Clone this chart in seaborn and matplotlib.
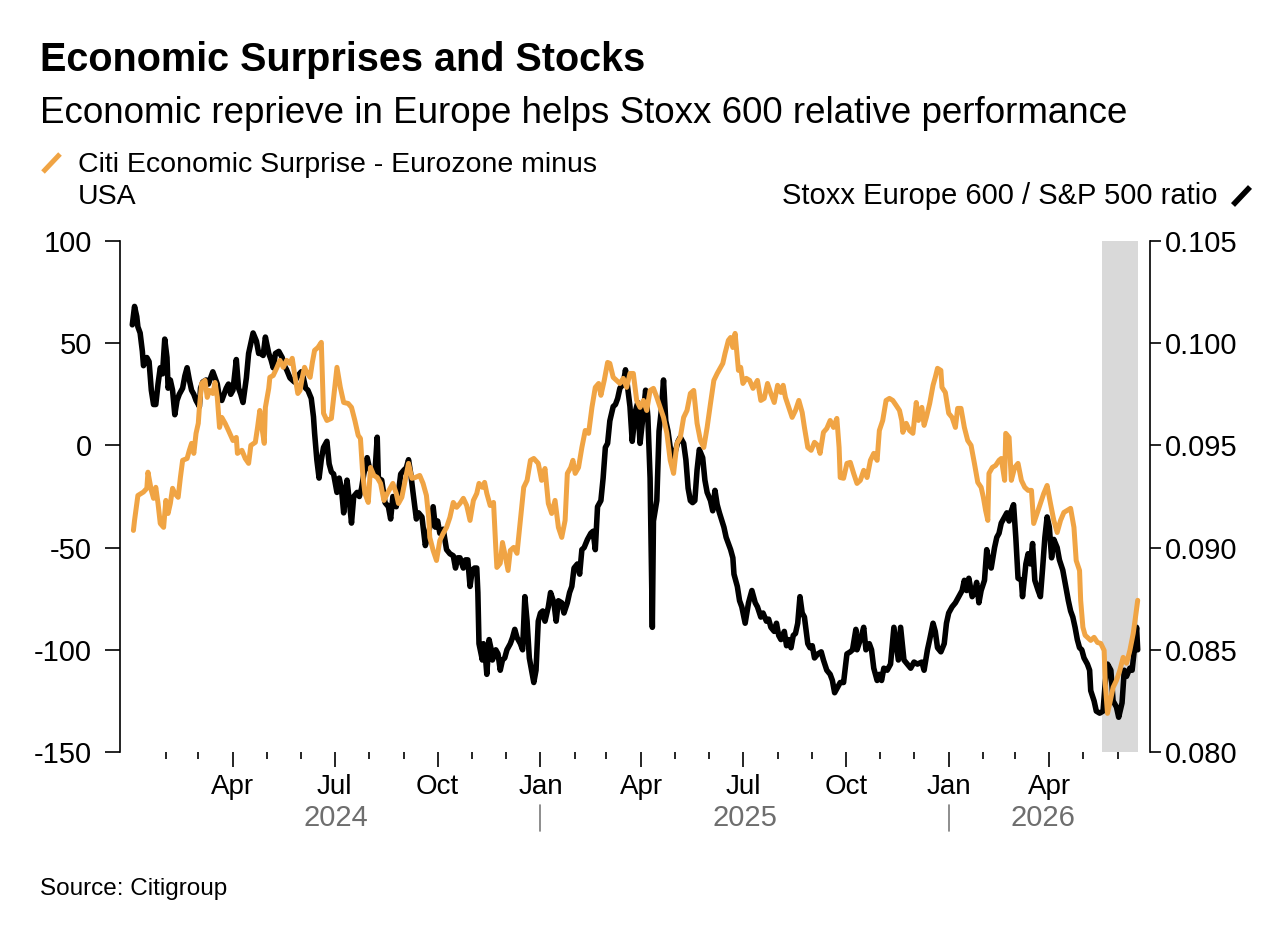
import numpy as np
import pandas as pd
import matplotlib
matplotlib.use("Agg")
import matplotlib.pyplot as plt
import matplotlib.dates as mdates
from matplotlib.lines import Line2D
from matplotlib.transforms import blended_transform_factory
import seaborn as sns

sns.set_theme(style="white")
plt.rcParams['font.family'] = ['Liberation Sans', 'DejaVu Sans']

# ---------------- data ----------------
START = pd.Timestamp("2024-01-01")   # day numbers below count from this date

# Citi Economic Surprise - Eurozone minus USA (left axis)
surprise_days = [
    2, 3, 6, 11, 14, 15, 18, 20, 22, 24,
    26, 29, 31, 33, 35, 37, 39, 42, 44, 46,
    50, 52, 54, 56, 58, 60, 61, 63, 66, 68,
    70, 73, 75, 77, 79, 81, 84, 87, 91, 94,
    95, 99, 102, 105, 107, 111, 113, 115, 117, 119,
    120, 123, 124, 127, 130, 133, 136, 139, 142, 144,
    146, 149, 151, 153, 155, 157, 160, 162, 164, 167,
    170, 172, 175, 179, 182, 184, 187, 190, 194, 197,
    200, 203, 205, 207, 209, 212, 214, 217, 220, 223,
    226, 229, 232, 234, 237, 239, 242, 245, 248, 251,
    254, 258, 261, 264, 266, 267, 270, 273, 276, 279,
    282, 285, 288, 291, 294, 297, 300, 303, 306, 309,
    311, 314, 316, 318, 321, 324, 326, 327, 330, 332,
    334, 337, 339, 342, 345, 348, 351, 354, 357, 360,
    364, 367, 370, 373, 376, 379, 382, 385, 388, 390,
    393, 395, 397, 400, 403, 406, 409, 412, 415, 418,
    420, 423, 426, 428, 431, 434, 437, 440, 443, 446,
    449, 452, 455, 458, 461, 464, 467, 470, 473, 476,
    479, 482, 485, 488, 491, 494, 497, 500, 503, 506,
    509, 512, 515, 518, 521, 524, 527, 529, 531, 534,
    536, 538, 540, 543, 545, 547, 550, 553, 556, 560,
    563, 566, 569, 572, 575, 578, 581, 583, 585, 588,
    591, 594, 597, 600, 602, 605, 608, 611, 614, 616,
    619, 622, 625, 628, 631, 633, 634, 637, 640, 643,
    646, 649, 652, 655, 658, 661, 664, 667, 669, 672,
    675, 678, 681, 684, 687, 689, 690, 693, 696, 699,
    702, 704, 707, 709, 711, 714, 717, 719, 721, 724,
    725, 728, 731, 734, 737, 739, 742, 745, 748, 751,
    754, 757, 760, 762, 764, 766, 767, 770, 773, 776,
    778, 781, 782, 785, 787, 790, 793, 796, 799, 802,
    805, 807, 810, 813, 816, 819, 822, 825, 828, 831,
    834, 837, 840, 843, 845, 848, 849, 851, 853, 855,
    858, 861, 864, 867, 870, 871, 873, 875, 878, 881,
    884, 887, 890, 893, 896, 898, 900,
]
surprise_values = [
    -41.6, -36.7, -24.5, -22.8, -21.0, -13.1, -22.0, -25.9, -20.5, -28.4,
    -38.2, -40.1, -26.9, -33.3, -28.4, -21.0, -23.5, -25.4, -15.7, -7.3,
    -6.4, -2.4, 1.0, -3.9, 5.9, 10.8, 18.6, 30.3, 31.8, 23.5,
    26.9, 25.4, 30.8, 23.5, 8.8, 13.7, 10.8, 7.3, 2.4, 3.9,
    -3.9, -2.4, -6.4, -8.8, 0.0, 1.5, 8.8, 17.1, 8.3, 1.0,
    18.6, 27.9, 33.3, 34.2, 37.7, 41.6, 38.2, 41.6, 40.1, 42.6,
    35.2, 25.4, 26.9, 33.3, 38.2, 35.7, 33.3, 40.6, 46.5, 47.9,
    50.4, 15.7, 12.2, 13.2, 28.4, 38.2, 28.4, 21.0, 20.5, 18.6,
    12.2, 4.9, 3.4, -13.7, -23.5, -27.9, -10.8, -14.7, -15.7, -18.6,
    -26.9, -23.5, -20.5, -18.6, -23.5, -28.4, -25.4, -17.1, -8.8, -16.1,
    -15.7, -14.7, -18.6, -24.5, -35.2, -45.0, -51.4, -56.3, -46.5, -43.0,
    -40.1, -35.2, -27.9, -30.3, -28.4, -25.9, -29.4, -36.7, -26.9, -23.5,
    -18.6, -20.5, -18.1, -23.5, -29.4, -27.9, -49.9, -59.7, -57.7, -47.5,
    -52.8, -61.2, -51.4, -49.9, -52.8, -36.7, -20.5, -17.1, -7.3, -6.4,
    -8.8, -17.1, -11.3, -28.4, -33.3, -26.9, -40.1, -45.0, -36.7, -13.7,
    -10.8, -7.3, -13.7, -10.8, -1.0, 7.3, 5.9, 18.6, 28.4, 30.3,
    24.5, 31.8, 40.6, 40.1, 33.3, 31.8, 30.3, 32.8, 28.4, 35.2,
    35.2, 22.0, 18.6, 22.0, 17.1, 26.9, 27.9, 23.5, 18.6, 13.7,
    5.9, -7.3, -13.7, 1.0, 3.9, 13.7, 17.1, 25.4, 26.9, 10.8,
    2.4, -1.0, 8.8, 20.5, 31.8, 35.2, 38.2, 40.1, 45.0, 51.4,
    52.8, 47.9, 54.8, 36.7, 38.2, 30.3, 32.8, 31.8, 27.9, 31.8,
    22.0, 23.0, 30.3, 25.4, 21.0, 29.4, 25.9, 29.4, 23.5, 18.6,
    13.7, 17.1, 22.0, 16.1, 8.8, -1.0, -2.4, 1.5, 0.0, -3.9,
    6.4, 8.3, 12.2, 8.8, 13.2, -1.0, -15.7, -16.1, -8.8, -8.3,
    -13.7, -18.6, -17.1, -12.2, -15.7, -7.3, -3.9, -7.3, 7.3, 12.2,
    22.0, 23.0, 22.0, 19.6, 17.1, 12.2, 6.4, 10.8, 7.3, 5.9,
    21.0, 12.2, 18.6, 9.8, 13.7, 20.5, 29.4, 33.3, 37.7, 36.7,
    28.4, 25.9, 15.7, 13.7, 8.8, 18.1, 18.1, 8.8, 2.4, 0.0,
    -8.8, -18.1, -20.5, -25.4, -31.8, -36.7, -13.7, -10.8, -9.8, -7.3,
    -6.4, -17.1, 5.9, 3.9, -17.1, -10.8, -8.8, -17.1, -20.5, -22.0,
    -22.0, -38.2, -33.3, -28.4, -23.5, -19.6, -28.4, -36.7, -42.6, -36.7,
    -32.8, -31.8, -30.8, -40.1, -56.3, -61.2, -75.8, -89.0, -92.9, -93.9,
    -95.4, -93.9, -96.4, -96.9, -100.3, -116.4, -131.1, -126.2, -118.4, -115.0,
    -110.1, -103.7, -106.6, -100.3, -92.0, -84.1, -75.8,
]

# Stoxx Europe 600 / S&P 500 ratio (right axis)
ratio_days = [
    1, 3, 5, 6, 8, 10, 11, 14, 16, 18,
    20, 22, 24, 26, 28, 30, 32, 33, 35, 37,
    39, 41, 43, 46, 48, 50, 52, 54, 56, 58,
    61, 62, 64, 67, 69, 71, 73, 75, 77, 79,
    81, 83, 85, 87, 89, 91, 94, 96, 98, 100,
    103, 105, 107, 109, 112, 114, 116, 118, 120, 123,
    125, 127, 129, 132, 135, 137, 139, 142, 144, 146,
    149, 152, 154, 156, 158, 161, 163, 164, 166, 168,
    170, 172, 175, 177, 179, 181, 184, 186, 188, 190,
    193, 195, 197, 199, 202, 204, 206, 208, 211, 213,
    215, 218, 220, 221, 224, 227, 230, 232, 234, 237,
    239, 241, 244, 246, 248, 250, 252, 255, 257, 260,
    263, 265, 267, 270, 272, 274, 276, 279, 282, 285,
    288, 290, 292, 294, 297, 299, 301, 303, 305, 307,
    309, 310, 311, 314, 315, 317, 318, 320, 322, 323,
    326, 328, 330, 332, 334, 336, 339, 341, 343, 345,
    348, 350, 352, 354, 356, 358, 360, 362, 364, 366,
    368, 370, 373, 375, 378, 380, 382, 385, 387, 390,
    392, 394, 396, 399, 401, 403, 405, 408, 411, 413,
    415, 417, 420, 422, 424, 426, 428, 431, 433, 435,
    437, 440, 442, 444, 446, 448, 451, 453, 455, 458,
    460, 462, 464, 466, 467, 470, 472, 474, 476, 478,
    480, 482, 484, 486, 489, 491, 494, 496, 498, 500,
    502, 504, 506, 508, 511, 513, 515, 518, 520, 522,
    524, 526, 530, 532, 536, 538, 539, 542, 544, 546,
    549, 552, 555, 558, 560, 563, 565, 568, 570, 572,
    575, 577, 579, 581, 584, 586, 588, 590, 592, 594,
    596, 598, 600, 602, 605, 607, 609, 611, 614, 617,
    619, 622, 625, 627, 629, 632, 634, 637, 640, 643,
    645, 648, 649, 652, 655, 657, 660, 662, 664, 667,
    669, 671, 673, 676, 679, 682, 684, 686, 688, 691,
    694, 697, 700, 703, 707, 709, 712, 714, 717, 719,
    721, 724, 727, 729, 731, 734, 737, 740, 743, 745,
    747, 749, 752, 754, 756, 758, 760, 763, 765, 767,
    769, 772, 774, 776, 778, 781, 783, 785, 787, 789,
    791, 793, 796, 797, 800, 802, 804, 806, 808, 811,
    813, 815, 817, 819, 821, 823, 825, 828, 830, 833,
    835, 838, 840, 842, 844, 846, 848, 850, 852, 855,
    857, 858, 861, 863, 866, 869, 871, 873, 876, 878,
    881, 883, 886, 888, 890, 893, 895, 897, 899, 900,
]
ratio_values = [
    0.1009, 0.1018, 0.1013, 0.1008, 0.1005, 0.0996, 0.0989, 0.0993, 0.0991, 0.0977,
    0.0970, 0.0970, 0.0980, 0.0988, 0.0985, 0.1002, 0.0993, 0.0978, 0.0982, 0.0977,
    0.0965, 0.0972, 0.0975, 0.0978, 0.0984, 0.0988, 0.0982, 0.0977, 0.0975, 0.0972,
    0.0969, 0.0978, 0.0981, 0.0982, 0.0980, 0.0983, 0.0986, 0.0983, 0.0980, 0.0973,
    0.0972, 0.0975, 0.0978, 0.0980, 0.0975, 0.0977, 0.0992, 0.0978, 0.0975, 0.0971,
    0.0983, 0.0995, 0.1000, 0.1005, 0.1001, 0.0995, 0.0995, 0.0994, 0.1003, 0.0995,
    0.0992, 0.0988, 0.0995, 0.0996, 0.0993, 0.0989, 0.0987, 0.0983, 0.0982, 0.0981,
    0.0984, 0.0986, 0.0983, 0.0978, 0.0977, 0.0973, 0.0964, 0.0956, 0.0943, 0.0934,
    0.0943, 0.0949, 0.0952, 0.0941, 0.0937, 0.0936, 0.0927, 0.0934, 0.0929, 0.0917,
    0.0933, 0.0923, 0.0912, 0.0925, 0.0927, 0.0925, 0.0929, 0.0936, 0.0944, 0.0939,
    0.0936, 0.0937, 0.0954, 0.0934, 0.0933, 0.0922, 0.0920, 0.0914, 0.0925, 0.0920,
    0.0927, 0.0936, 0.0938, 0.0939, 0.0943, 0.0936, 0.0927, 0.0914, 0.0917, 0.0915,
    0.0901, 0.0905, 0.0910, 0.0920, 0.0910, 0.0913, 0.0907, 0.0909, 0.0899, 0.0897,
    0.0896, 0.0890, 0.0895, 0.0895, 0.0890, 0.0894, 0.0894, 0.0881, 0.0889, 0.0890,
    0.0890, 0.0878, 0.0853, 0.0845, 0.0853, 0.0845, 0.0838, 0.0855, 0.0850, 0.0845,
    0.0850, 0.0848, 0.0840, 0.0845, 0.0846, 0.0850, 0.0853, 0.0856, 0.0860, 0.0856,
    0.0853, 0.0850, 0.0876, 0.0864, 0.0846, 0.0840, 0.0834, 0.0840, 0.0864, 0.0868,
    0.0869, 0.0864, 0.0871, 0.0878, 0.0873, 0.0864, 0.0874, 0.0873, 0.0868, 0.0873,
    0.0878, 0.0881, 0.0890, 0.0892, 0.0887, 0.0899, 0.0900, 0.0904, 0.0907, 0.0908,
    0.0899, 0.0920, 0.0923, 0.0934, 0.0949, 0.0951, 0.0962, 0.0969, 0.0970, 0.0973,
    0.0978, 0.0980, 0.0987, 0.0978, 0.0969, 0.0952, 0.0967, 0.0971, 0.0951, 0.0966,
    0.0977, 0.0964, 0.0934, 0.0861, 0.0913, 0.0923, 0.0957, 0.0967, 0.0982, 0.0962,
    0.0957, 0.0949, 0.0943, 0.0946, 0.0952, 0.0954, 0.0951, 0.0943, 0.0929, 0.0923,
    0.0922, 0.0923, 0.0938, 0.0948, 0.0944, 0.0933, 0.0927, 0.0923, 0.0918, 0.0928,
    0.0921, 0.0917, 0.0910, 0.0905, 0.0899, 0.0895, 0.0887, 0.0881, 0.0874, 0.0871,
    0.0863, 0.0873, 0.0879, 0.0873, 0.0871, 0.0866, 0.0868, 0.0864, 0.0865, 0.0861,
    0.0859, 0.0863, 0.0857, 0.0855, 0.0859, 0.0852, 0.0855, 0.0851, 0.0857, 0.0858,
    0.0863, 0.0876, 0.0868, 0.0866, 0.0853, 0.0851, 0.0852, 0.0846, 0.0848, 0.0849,
    0.0845, 0.0840, 0.0838, 0.0835, 0.0829, 0.0832, 0.0834, 0.0834, 0.0848, 0.0849,
    0.0850, 0.0860, 0.0850, 0.0855, 0.0861, 0.0850, 0.0853, 0.0850, 0.0841, 0.0835,
    0.0838, 0.0835, 0.0841, 0.0840, 0.0843, 0.0861, 0.0853, 0.0845, 0.0861, 0.0845,
    0.0843, 0.0841, 0.0844, 0.0843, 0.0844, 0.0840, 0.0850, 0.0855, 0.0863, 0.0859,
    0.0851, 0.0849, 0.0853, 0.0863, 0.0868, 0.0871, 0.0873, 0.0876, 0.0879, 0.0884,
    0.0879, 0.0885, 0.0876, 0.0878, 0.0883, 0.0873, 0.0879, 0.0884, 0.0899, 0.0892,
    0.0890, 0.0900, 0.0905, 0.0907, 0.0912, 0.0915, 0.0917, 0.0913, 0.0918, 0.0921,
    0.0905, 0.0885, 0.0884, 0.0876, 0.0892, 0.0897, 0.0892, 0.0902, 0.0884, 0.0879,
    0.0876, 0.0890, 0.0905, 0.0915, 0.0910, 0.0895, 0.0904, 0.0900, 0.0894, 0.0889,
    0.0883, 0.0874, 0.0869, 0.0866, 0.0861, 0.0855, 0.0851, 0.0850, 0.0846, 0.0843,
    0.0840, 0.0830, 0.0825, 0.0820, 0.0819, 0.0820, 0.0834, 0.0843, 0.0840, 0.0825,
    0.0822, 0.0817, 0.0824, 0.0840, 0.0837, 0.0841, 0.0840, 0.0850, 0.0861, 0.0850,
]

surprise_ticks = [-150, -100, -50, 0, 50, 100]
ratio_ticks = [0.080, 0.085, 0.090, 0.095, 0.100, 0.105]
year_labels = ["2024", "2025", "2026"]
shade_start, shade_end = "2026-05-18", "2026-06-19"
x_start, x_end = "2023-12-22", "2026-06-30"

if len(surprise_days) != len(surprise_values) or len(ratio_days) != len(ratio_values):
    raise SystemExit(f"length mismatch {len(surprise_days)} {len(surprise_values)} "
                     f"{len(ratio_days)} {len(ratio_values)}")

surprise_df = pd.DataFrame({"date": START + pd.to_timedelta(surprise_days, unit="D"),
                            "value": surprise_values})
ratio_df = pd.DataFrame({"date": START + pd.to_timedelta(ratio_days, unit="D"),
                         "value": ratio_values})

ORANGE = "#F0A444"
W, H = 1280, 935

def fx(px):
    return px / W

def fy(py):
    return 1 - py / H

fig = plt.figure(figsize=(12.8, 9.35), dpi=100)
ax = fig.add_axes([fx(120), fy(752), fx(1150) - fx(120), fy(241) - fy(752)])
ax2 = ax.twinx()

ax.axvspan(pd.Timestamp(shade_start), pd.Timestamp(shade_end), color="#D9D9D9", lw=0, zorder=0)

sns.lineplot(data=ratio_df, x="date", y="value", ax=ax, color="black", lw=4.0,
             estimator=None, zorder=3)
sns.lineplot(data=surprise_df, x="date", y="value", ax=ax2, color=ORANGE, lw=3.6,
             estimator=None, zorder=3)
for l in ax.lines + ax2.lines:
    l.set_solid_joinstyle("round")
    l.set_solid_capstyle("round")

ax.set_xlim(pd.Timestamp(x_start), pd.Timestamp(x_end))
ax.set_ylim(0.080, 0.105)
ax2.set_ylim(-150, 100)
for a in (ax, ax2):
    a.set_xlabel("")
    a.set_ylabel("")
    for s in a.spines.values():
        s.set_visible(False)

TICK_FS = 21

# right axis (ratio)
ax.yaxis.tick_right()
ax.set_yticks(ratio_ticks)
ax.set_yticklabels([f"{t:.3f}" for t in ratio_ticks])
ax.spines["right"].set_visible(True)
ax.spines["right"].set_color("black")
ax.spines["right"].set_linewidth(1.2)
ax.tick_params(axis="y", which="major", left=False, right=True, length=8, width=1.2,
               color="black", labelsize=TICK_FS, pad=3, labelcolor="black")

# left axis (surprise)
ax2.yaxis.tick_left()
ax2.set_yticks(surprise_ticks)
ax2.set_yticklabels([str(t) for t in surprise_ticks])
ax2.spines["left"].set_visible(True)
ax2.spines["left"].set_color("black")
ax2.spines["left"].set_linewidth(1.2)
ax2.tick_params(axis="y", which="major", left=True, right=False, length=11, width=1.2,
                color="black", labelsize=TICK_FS, pad=9, labelcolor="black")

# x axis
majors = pd.date_range("2024-04-01", "2026-04-01", freq="QS")
minors = [d for d in pd.date_range("2024-02-01", "2026-06-01", freq="MS") if d not in set(majors)]
ax.set_xticks(majors)
ax.set_xticks(minors, minor=True)
ax.xaxis.set_major_formatter(mdates.DateFormatter("%b"))
ax.tick_params(axis="x", which="major", bottom=True, length=11, width=1.2, color="black",
               labelsize=20, pad=5, labelcolor="black")
ax.tick_params(axis="x", which="minor", bottom=True, length=5, width=1.2, color="black")

# year labels with separators
trans = blended_transform_factory(ax.transData, fig.transFigure)
last = surprise_df["date"].max()
for yl in year_labels:
    y0 = pd.Timestamp(f"{yl}-01-01")
    y1 = min(pd.Timestamp(f"{int(yl) + 1}-01-01"), last)
    y0c = max(y0, pd.Timestamp("2024-01-01"))
    mid = y0c + (y1 - y0c) / 2
    ax.text(mid, fy(826), yl, transform=trans, ha="center", va="baseline",
            fontsize=21, color="#6E6E6E")
    if yl != "2024":
        ax.add_artist(Line2D([mdates.date2num(y0)] * 2, [fy(805), fy(831)], transform=trans,
                             color="#7A7A7A", lw=1.2, clip_on=False))

# titles
fig.text(fx(40), fy(71), "Economic Surprises and Stocks", fontsize=28.5, fontweight="bold",
         va="baseline", ha="left", color="black")
fig.text(fx(40), fy(123), "Economic reprieve in Europe helps Stoxx 600 relative performance",
         fontsize=26.5, va="baseline", ha="left", color="black")

# legend
fig.add_artist(Line2D([fx(43), fx(60)], [fy(172), fy(154)], transform=fig.transFigure,
                      color=ORANGE, lw=3.6, solid_capstyle="butt"))
fig.text(fx(78), fy(172), "Citi Economic Surprise - Eurozone minus", fontsize=20.5,
         va="baseline", ha="left", color="black")
fig.text(fx(78), fy(204), "USA", fontsize=20.5, va="baseline", ha="left", color="black")
fig.text(fx(1218), fy(204), "Stoxx Europe 600 / S&P 500 ratio", fontsize=21,
         va="baseline", ha="right", color="black")
fig.add_artist(Line2D([fx(1233), fx(1250)], [fy(205), fy(187)], transform=fig.transFigure,
                      color="black", lw=4.0, solid_capstyle="butt"))

fig.text(fx(40), fy(895), "Source: Citigroup", fontsize=17.5, va="baseline", ha="left",
         color="black")

fig.savefig("out.png", dpi=100)
